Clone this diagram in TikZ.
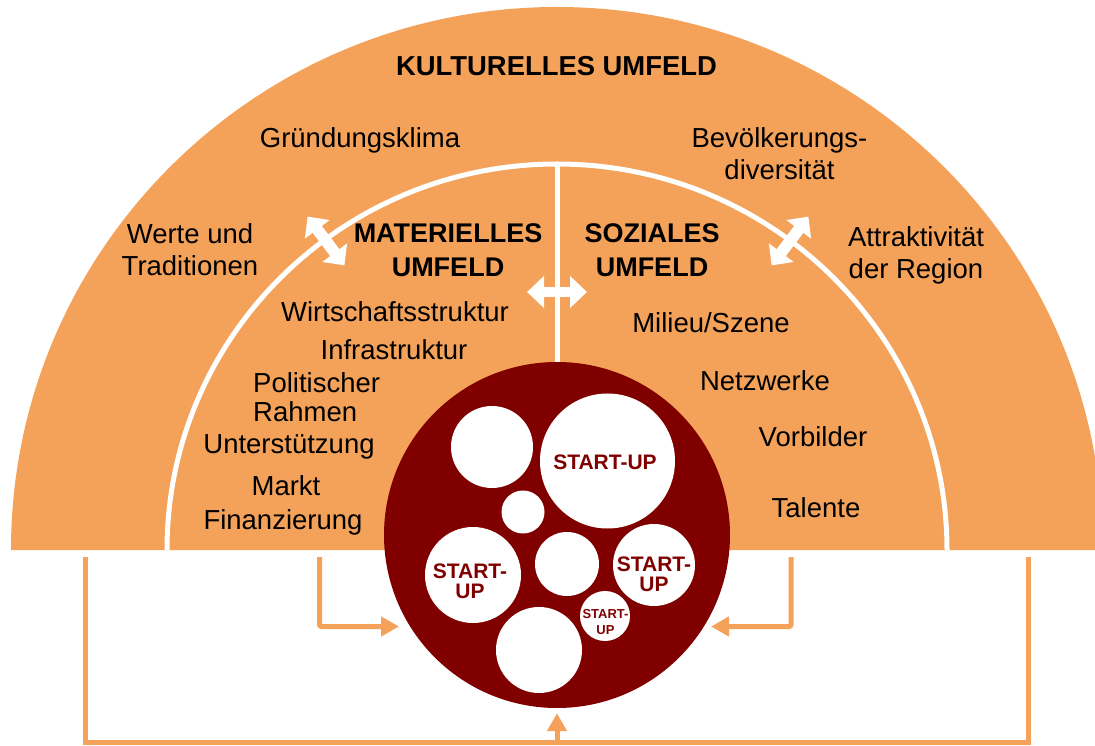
\documentclass[tikz,border=0pt]{standalone}
\usepackage{fontspec}
\setmainfont{Liberation Sans}
\usetikzlibrary{arrows.meta}
\definecolor{orng}{HTML}{F4A259}
\definecolor{dkred}{HTML}{800000}
\newcommand\mlines[2][c]{\begin{tabular}[t]{@{}#1@{}}#2\end{tabular}}
\tikzset{
  lbl/.style={anchor=base, inner sep=0pt, font=\fontsize{27.5}{32}\selectfont},
  hdl/.style={anchor=base, inner sep=0pt, font=\fontsize{27}{34}\selectfont\bfseries},
  su/.style={anchor=base, inner sep=0pt, text=dkred, font=\fontsize{21}{20}\selectfont\bfseries},
  sutiny/.style={anchor=base, inner sep=0pt, text=dkred, font=\fontsize{13}{16.5}\selectfont\bfseries},
  bub/.style={circle, fill=white, inner sep=0pt},
  conn/.style={draw=orng, line width=5pt, rounded corners=2pt, -{Triangle[length=18pt,width=19pt]}},
  fb/.style={draw=orng, line width=5pt},
  dbl/.style={white, line width=11.5pt, {Triangle[length=16pt,width=30pt]}-{Triangle[length=16pt,width=30pt]}},
  sep/.style={white, line width=5pt},
}
\begin{document}
\begin{tikzpicture}[x=1pt,y=1pt]
\useasboundingbox (0,0) rectangle (1095,745);
\clip (0,0) rectangle (1095,745);
% outer half disc
\fill[orng] (11,195) arc[start angle=180, end angle=0, x radius=546pt, y radius=543pt] -- cycle;
% inner white separating arc and vertical line
\draw[sep] (167,195) arc[start angle=180, end angle=0, x radius=390pt, y radius=386pt];
\coordinate (vtop) at (557,581);
\coordinate (vbot) at (557,370);
\draw[sep] (vtop) -- (vbot);

% core circle
\node[circle, fill=dkred, inner sep=0pt, minimum size=346pt] (core) at (557,210) {};
\node[bub, minimum size=82pt]  (b1) at (492,298) {};
\node[bub, minimum size=135pt] (b2) at (607.5,284) {};
\node[bub, minimum size=43pt]  (b3) at (523,233) {};
\node[bub, minimum size=96pt]  (b4) at (473,170) {};
\node[bub, minimum size=64pt]  (b5) at (567,181) {};
\node[bub, minimum size=82pt]  (b6) at (654,180) {};
\node[bub, minimum size=50pt]  (b7) at (605,129) {};
\node[bub, minimum size=86pt]  (b8) at (539,95) {};

\node[su] (s2) at (605,275) {START-UP};
\node[su] (s4) at (470,167) {\mlines{START-\\UP}};
\node[su] (s6) at (654,174) {\mlines{START-\\UP}};
\node[sutiny] (s7) at (605.5,127) {\mlines{START-\\UP}};

% white double arrows
\coordinate (la1) at (307.6,528.4);
\coordinate (la2) at (344.4,479.6);
\draw[dbl] (la1) -- (la2);
\coordinate (ra1) at (808.4,528.4);
\coordinate (ra2) at (771.6,479.6);
\draw[dbl] (ra1) -- (ra2);
\coordinate (ma1) at (527,453);
\coordinate (ma2) at (587,453);
\draw[white, line width=10.5pt, {Triangle[length=17pt,width=31pt]}-{Triangle[length=17pt,width=31pt]}] (ma1) -- (ma2);

% headings
\node[hdl, font=\fontsize{27.4}{34}\selectfont\bfseries] (kult) at (556.5,669) {KULTURELLES UMFELD};
\node[hdl] (mat) at (448,502) {\mlines{MATERIELLES\\UMFELD}};
\node[hdl] (soz) at (652,502) {\mlines{SOZIALES\\UMFELD}};

% cultural labels
\node[lbl] (gruend) at (360,597) {Gründungsklima};
\node[lbl] (werte) at (190,501) {\mlines{Werte und\\Traditionen}};
\node[lbl] (bevoel) at (779.5,597) {\mlines{Bevölkerungs-\\diversität}};
\node[lbl] (attr) at (916,498) {\mlines{Attraktivität\\der Region}};

% material labels
\node[lbl] (wirt) at (395,423) {Wirtschaftsstruktur};
\node[lbl] (infra) at (394,385) {Infrastruktur};
\node[lbl, anchor=base west] (polit) at (253,352) {\mlines[l]{Politischer\\[-3pt]Rahmen}};
\node[lbl] (unter) at (289,291) {Unterstützung};
\node[lbl] (markt) at (286,249) {Markt};
\node[lbl] (finanz) at (283,215) {Finanzierung};

% social labels
\node[lbl] (milieu) at (711,412) {Milieu/Szene};
\node[lbl] (netz) at (765,354) {Netzwerke};
\node[lbl] (vorb) at (813,298) {Vorbilder};
\node[lbl] (tal) at (816,228) {Talente};

% connectors
\coordinate (lA) at (319.5,188);
\coordinate (lB) at (399,118.5);
\draw[conn] (lA) |- (lB);
\coordinate (rA) at (791,188);
\coordinate (rB) at (711,118.5);
\draw[conn] (rA) |- (rB);
\coordinate (fL) at (85.5,188);
\coordinate (fM) at (557,2.5);
\coordinate (fR) at (1028,188);
\draw[fb] (fL) |- (fM) -| (fR);
\draw[conn] (fM) -- (core.south) [shorten >=5pt];
\end{tikzpicture}
\end{document}
